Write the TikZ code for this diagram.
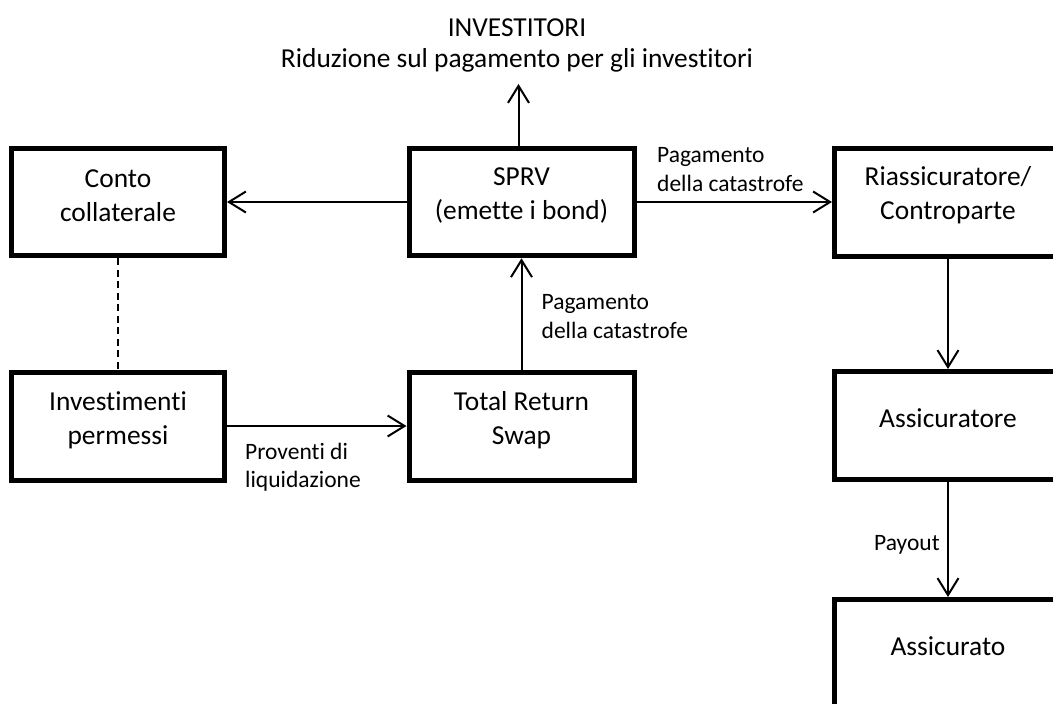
\documentclass[tikz,border=0pt]{standalone}
\usepackage{fontspec}
\setmainfont{Carlito}[Ligatures=NoCommon,RawFeature=-liga]
\usetikzlibrary{arrows.meta}
\tikzset{
  box/.style={draw=black, line width=5pt, fill=white, inner sep=0pt},
  btext/.style={inner sep=0pt, align=center, font=\fontsize{27.4}{34}\selectfont},
  ttext/.style={inner sep=0pt, font=\fontsize{27.4}{31}\selectfont},
  lbl/.style={inner sep=0pt, align=left, font=\fontsize{23.5}{28.5}\selectfont},
  arr/.style={draw=black, line width=2pt, -{Straight Barb[length=17pt,width=21pt,line width=2pt]}},
  dashline/.style={draw=black, line width=2pt, dash pattern=on 7pt off 4.5pt}
}
\begin{document}
\begin{tikzpicture}[x=1pt,y=-1pt]
\path[use as bounding box] (0,0) rectangle (1053,704);
\clip (0,0) rectangle (1053,704);
% boxes
\node[box, minimum width=213pt, minimum height=107.5pt] (conto) at (118,202) {};
\node[box, minimum width=225pt, minimum height=107.5pt] (sprv) at (521.5,202) {};
\node[box, minimum width=227pt, minimum height=108pt] (riass) at (948,202) {};
\node[box, minimum width=213pt, minimum height=108pt] (invest) at (118,426) {};
\node[box, minimum width=225pt, minimum height=108pt] (trs) at (521.5,426) {};
\node[box, minimum width=227pt, minimum height=108pt] (assore) at (948,425.5) {};
\node[box, minimum width=227pt, minimum height=109pt] (assato) at (948,654) {};
% box texts
\node[btext] (contoT) at ([yshift=6.5pt]conto.center) {Conto\\collaterale};
\node[btext] (sprvT) at ([yshift=6.5pt]sprv.center) {SPRV\\(emette i bond)};
\node[btext] (riassT) at ([yshift=6.5pt]riass.center) {Riassicuratore/\\Controparte};
\node[btext] (investT) at ([yshift=5.5pt]invest.center) {Investimenti\\permessi};
\node[btext] (trsT) at ([yshift=5.5pt]trs.center) {Total Return\\Swap};
\node[btext] (assoreT) at ([yshift=7pt]assore.center) {Assicuratore};
\node[btext] (assatoT) at ([yshift=7.5pt]assato.center) {Assicurato};
% top text
\node[ttext, anchor=base] (invA) at (517,36) {INVESTITORI};
\node[ttext, anchor=base] (invB) at (517,67) {Riduzione sul pagamento per gli investitori};
\coordinate (invtip) at (518.5,84);
% connectors
\draw[arr] (sprv.north -| invtip) -- (invtip);
\draw[arr] (sprv) -- (conto);
\draw[arr] (sprv) -- (riass);
\draw[arr] (trs) -- (sprv);
\draw[arr] (invest) -- (trs);
\draw[arr] (riass) -- (assore);
\draw[arr] (assore) -- (assato);
\draw[dashline] (conto) -- (invest);
% labels
\node[lbl, anchor=west] (l1) at (657,169.5) {Pagamento\\della catastrofe};
\node[lbl, anchor=west] (l2) at (541.5,316.5) {Pagamento\\della catastrofe};
\node[lbl, anchor=west] (l3) at (245,467) {Proventi di\\liquidazione};
\node[lbl, anchor=west] (l4) at (874,545) {Payout};
\end{tikzpicture}
\end{document}
